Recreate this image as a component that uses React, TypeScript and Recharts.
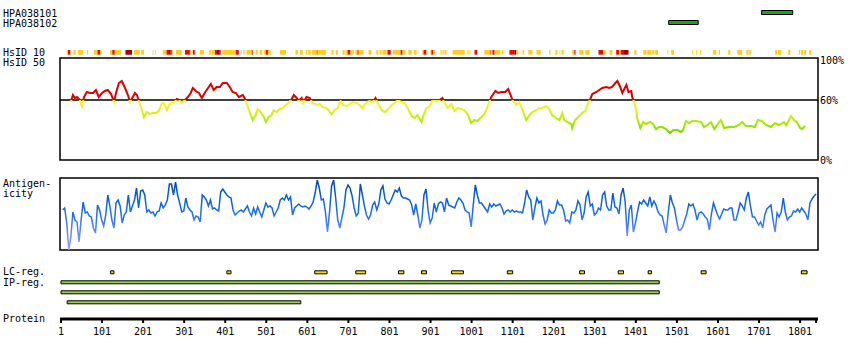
import { ComposedChart, Line, XAxis, YAxis, ReferenceArea, ReferenceLine } from "recharts";

const MONO = '"DejaVu Sans Mono", monospace';

// protein coordinates (residues)
const PROTEIN_LENGTH = 1840;
const X_DOMAIN: [number, number] = [-1.4, 1844.6];
const AXIS_TICKS = [1, 101, 201, 301, 401, 501, 601, 701, 801, 901, 1001, 1101, 1201, 1301, 1401, 1501, 1601, 1701, 1801, PROTEIN_LENGTH];

const antibodyNames = ["HPA038101", "HPA038102"];
const antibodyRanges: [number, number][] = [
  [1707, 1783],
  [1481, 1553],
];

// HsID 10 : [start, end, level] level 1 = yellow, 2 = red, 3 = dark red
const hsid10Segments: [number, number, number][] = [
  [15, 18, 1], [18, 24, 2], [24, 26, 1], [32, 37, 1], [42, 55, 1], [64, 67, 1], [81, 90, 1], [90, 96, 2], [96, 100, 1],
  [120, 126, 1], [126, 132, 2], [132, 147, 1], [158, 174, 3], [179, 193, 1], [196, 203, 1], [224, 226, 1], [230, 232, 1],
  [249, 258, 1], [258, 264, 2], [264, 268, 3], [268, 271, 2], [271, 274, 1], [281, 295, 1], [303, 315, 2], [315, 318, 1],
  [322, 327, 2], [327, 329, 1], [339, 349, 1], [361, 366, 1], [368, 376, 1], [376, 379, 2], [379, 386, 3], [386, 390, 2],
  [394, 427, 1], [427, 434, 2], [440, 442, 1], [445, 448, 1], [453, 466, 1], [466, 468, 2], [475, 480, 1], [485, 491, 1],
  [495, 500, 1], [500, 505, 2], [505, 512, 1], [534, 549, 1], [572, 578, 1], [583, 590, 1], [597, 601, 1], [603, 609, 1],
  [612, 624, 1], [624, 626, 2], [626, 647, 1], [660, 665, 1], [670, 675, 1], [687, 692, 1], [694, 699, 1], [699, 706, 2],
  [706, 714, 1], [718, 723, 1], [723, 726, 2], [726, 738, 1], [750, 757, 1], [769, 774, 1], [777, 782, 1], [784, 794, 1],
  [796, 804, 2], [809, 828, 1], [828, 833, 2], [833, 840, 1], [847, 855, 1], [860, 867, 1], [881, 884, 1], [884, 891, 2],
  [891, 894, 1], [901, 903, 1], [903, 907, 2], [907, 913, 1], [925, 928, 1], [930, 933, 1], [935, 940, 1], [955, 984, 1],
  [991, 994, 1], [996, 998, 1], [1008, 1015, 2], [1032, 1047, 1], [1047, 1049, 2], [1049, 1052, 1], [1052, 1057, 2],
  [1057, 1071, 1], [1074, 1078, 1], [1093, 1105, 2], [1105, 1110, 3], [1110, 1115, 1], [1125, 1129, 1], [1139, 1149, 1],
  [1159, 1169, 1], [1190, 1193, 1], [1205, 1210, 1], [1215, 1217, 1], [1220, 1225, 1], [1246, 1251, 1], [1251, 1254, 2],
  [1263, 1273, 1], [1278, 1288, 1], [1310, 1322, 2], [1322, 1327, 1], [1337, 1344, 1], [1353, 1360, 2], [1360, 1364, 1],
  [1364, 1370, 2], [1370, 1383, 3], [1397, 1402, 1], [1419, 1427, 1], [1429, 1439, 1], [1441, 1446, 1], [1448, 1455, 1],
  [1478, 1480, 1], [1487, 1494, 1], [1538, 1540, 1], [1548, 1550, 1], [1557, 1560, 1], [1589, 1597, 1], [1603, 1606, 1],
  [1626, 1631, 1], [1648, 1660, 1], [1670, 1675, 1], [1677, 1682, 1], [1740, 1745, 1], [1747, 1755, 1], [1772, 1777, 1],
  [1798, 1801, 1], [1803, 1808, 1], [1811, 1816, 1], [1823, 1828, 1],
];
const hsid10Colors = ["", "#ffcc22", "#dd1111", "#a00000"];

const lcRegions: [number, number][] = [
  [122, 130], [405, 415], [619, 649], [719, 743], [823, 836], [879, 891], [952, 981],
  [1088, 1101], [1264, 1276], [1358, 1371], [1431, 1439], [1560, 1572], [1804, 1818],
];
const ipRegions: [number, number][] = [
  [1, 1458],
  [1, 1458],
  [16, 585],
];

// HsID 50 (% identity)
const hsid50Pos = [
  25, 30, 35, 40, 47, 52, 57, 64, 72, 79, 86, 93, 101, 108, 115, 123, 130, 135, 142, 149, 157, 164, 169, 176, 181, 186,
  191, 196, 203, 210, 217, 225, 232, 239, 247, 251, 259, 264, 271, 276, 283, 290, 295, 303, 310, 317, 322, 329, 337, 344,
  351, 359, 366, 373, 380, 388, 395, 405, 412, 419, 427, 434, 444, 448, 453, 461, 468, 475, 480, 487, 495, 500, 507, 514,
  519, 526, 534, 541, 548, 555, 563, 568, 575, 580, 587, 590, 599, 607, 614, 624, 631, 638, 648, 660, 667, 675, 682, 687,
  697, 704, 711, 721, 728, 735, 745, 752, 760, 767, 772, 782, 789, 796, 806, 813, 821, 830, 838, 845, 855, 862, 869, 879,
  884, 891, 898, 906, 915, 923, 930, 935, 942, 952, 959, 967, 976, 983, 991, 1000, 1008, 1015, 1025, 1032, 1037, 1044,
  1049, 1059, 1066, 1073, 1083, 1090, 1098, 1100, 1110, 1117, 1125, 1134, 1142, 1149, 1159, 1166, 1173, 1183, 1190, 1197,
  1207, 1215, 1222, 1227, 1234, 1244, 1246, 1253, 1261, 1270, 1278, 1283, 1290, 1295, 1305, 1312, 1319, 1329, 1336, 1343,
  1351, 1356, 1363, 1368, 1378, 1383, 1390, 1392, 1397, 1402, 1404, 1412, 1419, 1426, 1436, 1443, 1450, 1458, 1465, 1475,
  1484, 1492, 1502, 1511, 1516, 1523, 1531, 1538, 1548, 1560, 1567, 1575, 1584, 1592, 1599, 1608, 1616, 1628, 1640, 1652,
  1660, 1669, 1681, 1691, 1698, 1708, 1718, 1730, 1740, 1749, 1762, 1767, 1779, 1786, 1793, 1801, 1806, 1813,
];
const hsid50Val = [
  58, 65, 62, 63, 60, 54, 63, 68, 67, 67, 70, 63, 67, 69, 70, 66, 58, 67, 77, 79, 72, 65, 58, 63, 67, 65,
  58, 53, 43, 48, 46, 47, 47, 49, 57, 57, 50, 55, 58, 57, 61, 60, 57, 60, 63, 67, 72, 69, 67, 62,
  67, 72, 76, 70, 73, 73, 77, 77, 73, 68, 67, 63, 65, 62, 57, 47, 40, 45, 51, 48, 43, 38, 43, 45,
  50, 48, 51, 52, 55, 57, 61, 65, 62, 59, 62, 57, 63, 62, 57, 55, 56, 53, 52, 46, 50, 52, 59, 55,
  54, 56, 58, 57, 55, 52, 58, 59, 58, 62, 57, 50, 48, 50, 55, 57, 60, 58, 57, 52, 44, 42, 45, 38,
  45, 52, 53, 60, 59, 60, 62, 57, 52, 56, 49, 52, 51, 50, 46, 37, 40, 39, 43, 46, 50, 58,
  63, 69, 67, 68, 68, 71, 63, 60, 55, 58, 50, 40, 45, 48, 50, 52, 52, 54, 51, 45,
  42, 40, 47, 40, 38, 36, 32, 40, 43, 47, 49, 55, 61, 66, 68, 70, 72, 73, 72, 73,
  77, 79, 73, 67, 75, 68, 69, 63, 58, 50, 42, 32, 38, 36, 38, 36, 31, 33, 33, 31,
  27, 30, 30, 28, 30, 39, 37, 39, 39, 38, 33, 35, 38, 31, 35, 40, 32, 33, 33, 35,
  38, 34, 34, 33, 40, 39, 35, 33, 37, 35, 38, 35, 44, 40, 38, 32, 31, 34,
];

// Antigenicity, sampled every 5 residues from residue 5
const ANTIGEN_START = 5;
const ANTIGEN_STEP = 5;
const antigenicity = [
  40, 42, 27, 0, 13, 38, 30, 28, 8, 30, 48, 37, 38, 34, 33, 22, 17, 45, 40, 30,
  24, 35, 55, 44, 30, 22, 47, 50, 44, 27, 35, 38, 55, 38, 44, 50, 62, 42, 59, 60,
  55, 38, 40, 37, 38, 34, 38, 39, 47, 42, 45, 50, 66, 66, 55, 68, 55, 47, 38, 39,
  52, 43, 40, 38, 30, 34, 33, 28, 55, 53, 50, 44, 50, 41, 42, 40, 39, 58, 61, 58,
  55, 53, 52, 40, 35, 37, 39, 40, 38, 41, 44, 38, 34, 42, 36, 43, 38, 33, 40, 47,
  43, 44, 42, 34, 38, 42, 50, 52, 50, 55, 50, 53, 35, 42, 44, 46, 44, 43, 44, 43,
  41, 44, 48, 57, 70, 62, 50, 51, 38, 18, 38, 64, 70, 52, 30, 22, 32, 42, 60, 65,
  62, 54, 42, 34, 37, 66, 55, 44, 35, 31, 35, 45, 48, 40, 46, 60, 64, 51, 47, 46,
  50, 55, 60, 58, 62, 54, 52, 52, 51, 50, 45, 35, 46, 35, 22, 30, 55, 61, 40, 27,
  32, 47, 38, 46, 48, 47, 38, 52, 45, 44, 43, 42, 48, 52, 50, 47, 40, 38, 37, 23,
  45, 65, 55, 47, 47, 44, 41, 38, 46, 43, 46, 44, 45, 46, 42, 36, 39, 40, 38, 40,
  38, 39, 38, 38, 37, 47, 60, 53, 50, 30, 42, 52, 47, 49, 35, 26, 30, 40, 37, 37,
  40, 49, 45, 45, 40, 29, 30, 27, 38, 37, 40, 49, 45, 30, 37, 53, 58, 44, 46, 35,
  37, 42, 40, 55, 58, 44, 40, 40, 57, 43, 42, 36, 55, 62, 48, 14, 40, 45, 18, 27,
  38, 48, 46, 50, 47, 44, 53, 44, 49, 45, 38, 35, 34, 25, 17, 38, 55, 47, 42, 30,
  20, 20, 23, 30, 36, 46, 44, 46, 40, 30, 37, 38, 36, 33, 31, 20, 36, 47, 41, 35,
  31, 36, 41, 40, 40, 42, 42, 30, 30, 38, 47, 44, 40, 52, 58, 44, 33, 33, 29, 25,
  28, 22, 35, 41, 43, 45, 30, 18, 37, 33, 38, 52, 38, 30, 33, 34, 39, 38, 41, 38,
  42, 39, 36, 30, 47, 51, 54, 56,
];

const hsidData = hsid50Pos.map((pos, i) => ({ pos, v: hsid50Val[i] }));
const antigenData = antigenicity.map((v, i) => ({ pos: ANTIGEN_START + i * ANTIGEN_STEP, v }));
const tickData = AXIS_TICKS.map((pos) => ({ pos }));

const label = (top: number): React.CSSProperties => ({
  position: "absolute",
  left: 3,
  top,
  fontFamily: MONO,
  fontSize: 10,
  lineHeight: "10px",
  color: "#000",
  whiteSpace: "nowrap",
});

export default function App() {
  return (
    <div style={{ position: "absolute", left: 0, top: 0, width: 850, height: 360, background: "#fff" }}>
      {/* feature tracks + protein axis */}
      <div style={{ position: "absolute", left: 0, top: 0 }}>
        <ComposedChart width={850} height={360} data={tickData} margin={{ top: 0, right: 32, bottom: 0, left: 60 }}>
          <XAxis
            type="number"
            dataKey="pos"
            domain={X_DOMAIN}
            allowDataOverflow
            height={41}
            ticks={AXIS_TICKS}
            interval={0}
            tickFormatter={(v: number) => (v === PROTEIN_LENGTH ? "" : String(v))}
            axisLine={{ stroke: "#000", strokeWidth: 3 }}
            tickLine={{ stroke: "#000", strokeWidth: 2 }}
            tickSize={4}
            tickMargin={5}
            tick={{ fill: "#000", fontSize: 10, fontFamily: MONO }}
          />
          <YAxis type="number" domain={[0, 319]} reversed hide allowDataOverflow />
          {antibodyRanges.map(([s, e], i) => (
            <ReferenceArea key={antibodyNames[i]} x1={s} x2={e} y1={10.5 + i * 10} y2={14.5 + i * 10}
              fill="#1fa01f" fillOpacity={1} stroke="#000" strokeWidth={1} />
          ))}
          {hsid10Segments.map(([s, e, lvl], i) => (
            <ReferenceArea key={"h" + i} x1={s} x2={e} y1={50} y2={54.7}
              fill={hsid10Colors[lvl]} fillOpacity={1} stroke="none" />
          ))}
          {lcRegions.map(([s, e], i) => (
            <ReferenceArea key={"lc" + i} x1={s} x2={e} y1={270.8} y2={273.8}
              fill="#f0dc1e" fillOpacity={1} stroke="#000" strokeWidth={1} />
          ))}
          {ipRegions.map(([s, e], i) => (
            <ReferenceArea key={"ip" + i} x1={s} x2={e} y1={280.8 + i * 10} y2={283.8 + i * 10}
              fill="#9ccc55" fillOpacity={1} stroke="#000" strokeWidth={1} />
          ))}
        </ComposedChart>
      </div>

      {/* HsID 50 */}
      <div style={{ position: "absolute", left: 0, top: 48 }}>
        <ComposedChart width={850} height={122} data={hsidData} margin={{ top: 10, right: 0, bottom: 10, left: 60 }}>
          <defs>
            <linearGradient id="hsidGrad" gradientUnits="userSpaceOnUse" x1="0" y1="10" x2="0" y2="112">
              <stop offset="0" stopColor="#dd0000" />
              <stop offset="0.4118" stopColor="#dd0000" />
              <stop offset="0.4118" stopColor="#fff030" />
              <stop offset="0.49" stopColor="#eef21a" />
              <stop offset="0.56" stopColor="#ccee11" />
              <stop offset="0.627" stopColor="#aaee00" />
              <stop offset="0.706" stopColor="#88dd00" />
              <stop offset="0.755" stopColor="#66bb00" />
              <stop offset="1" stopColor="#449900" />
            </linearGradient>
          </defs>
          <XAxis type="number" dataKey="pos" domain={X_DOMAIN} allowDataOverflow hide />
          <YAxis
            yAxisId="pct"
            orientation="right"
            width={32}
            domain={[0, 102]}
            ticks={[0, 60, 100]}
            interval={0}
            axisLine={false}
            tickLine={false}
            tickSize={0}
            tickMargin={2}
            tickFormatter={(v: number) => `${v}%`}
            tick={{ fill: "#000", fontSize: 10, fontFamily: MONO }}
          />
          <ReferenceArea yAxisId="pct" x1={X_DOMAIN[0]} x2={X_DOMAIN[1]} y1={0} y2={102}
            fill="none" stroke="#000" strokeWidth={1.5} />
          <ReferenceLine yAxisId="pct" y={60} stroke="#000" strokeWidth={1.3} />
          <Line yAxisId="pct" type="linear" dataKey="v" stroke="url(#hsidGrad)" strokeWidth={2}
            dot={false} isAnimationActive={false} />
        </ComposedChart>
      </div>

      {/* Antigenicity */}
      <div style={{ position: "absolute", left: 0, top: 176 }}>
        <ComposedChart width={850} height={76} data={antigenData} margin={{ top: 2, right: 32, bottom: 2, left: 60 }}>
          <defs>
            <linearGradient id="antiGrad" gradientUnits="userSpaceOnUse" x1="0" y1="2" x2="0" y2="74">
              <stop offset="0" stopColor="#0044b0" />
              <stop offset="0.14" stopColor="#0052c8" />
              <stop offset="0.31" stopColor="#0a62e2" />
              <stop offset="0.44" stopColor="#1569ee" />
              <stop offset="0.58" stopColor="#2f74fa" />
              <stop offset="0.72" stopColor="#5a82ff" />
              <stop offset="1" stopColor="#9a9aff" />
            </linearGradient>
          </defs>
          <XAxis type="number" dataKey="pos" domain={X_DOMAIN} allowDataOverflow hide />
          <YAxis type="number" domain={[0, 72]} hide allowDataOverflow />
          <ReferenceArea x1={X_DOMAIN[0]} x2={X_DOMAIN[1]} y1={0} y2={72}
            fill="none" stroke="#000" strokeWidth={1.5} />
          <Line type="linear" dataKey="v" stroke="url(#antiGrad)" strokeWidth={1.5}
            dot={false} isAnimationActive={false} />
        </ComposedChart>
      </div>

      <div style={label(8.5)}>{antibodyNames[0]}</div>
      <div style={label(18.5)}>{antibodyNames[1]}</div>
      <div style={label(48)}>HsID 10</div>
      <div style={label(58)}>HsID 50</div>
      <div style={label(178.5)}>Antigen-</div>
      <div style={label(188.5)}>icity</div>
      <div style={label(267)}>LC-reg.</div>
      <div style={label(277.5)}>IP-reg.</div>
      <div style={label(314)}>Protein</div>
    </div>
  );
}
